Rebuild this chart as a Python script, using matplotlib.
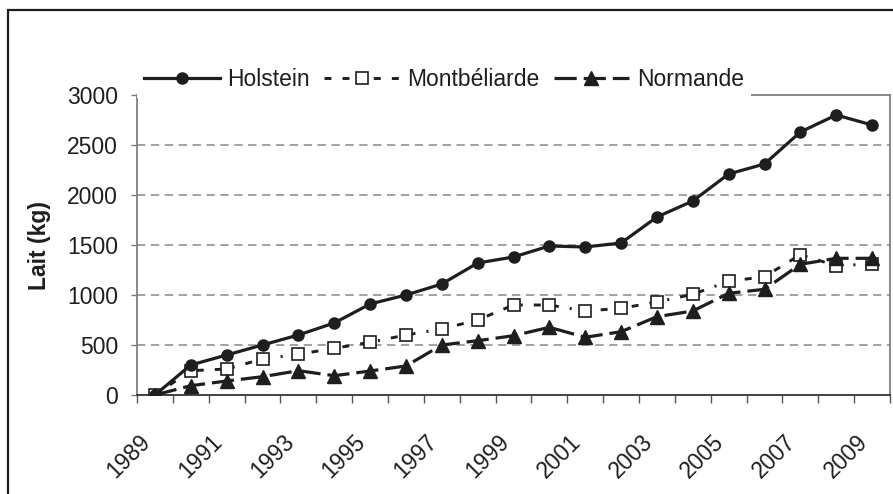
import matplotlib
matplotlib.use("Agg")
import matplotlib.pyplot as plt
import matplotlib.transforms as mtransforms
from matplotlib.patches import Rectangle

plt.rcParams["font.family"] = ["Liberation Sans", "DejaVu Sans"]
plt.rcParams["lines.scale_dashes"] = False

years = list(range(1989, 2010))
holstein = [0, 300, 400, 500, 600, 720, 910, 1000, 1110, 1320, 1380,
            1490, 1480, 1520, 1780, 1940, 2210, 2310, 2630, 2800, 2700]
montbeliarde = [0, 243, 260, 360, 407, 467, 527, 600, 660, 750, 900,
                900, 840, 867, 930, 1007, 1137, 1183, 1403, 1293, 1310]
normande = [0, 93, 140, 183, 243, 193, 240, 290, 500, 543, 593,
            677, 577, 633, 783, 840, 1017, 1057, 1307, 1367, 1367]
yticks = [0, 500, 1000, 1500, 2000, 2500, 3000]

ink = "#1e1e1e"
fs = 16.5

fig = plt.figure(figsize=(8.93, 4.94), dpi=100)
ax = fig.add_axes([137 / 893, 1 - 395 / 494, 753 / 893, 300 / 494])

# outer frame around the whole chart
fig.patches.append(Rectangle((8 / 893, -0.05), 1.2, 1 - 10 / 494 + 0.05,
                             transform=fig.transFigure, fill=False,
                             edgecolor=ink, linewidth=1.6, zorder=0))

x = list(range(len(years)))
ax.plot(x, holstein, color=ink, lw=2.3, marker="o", ms=8,
        label="Holstein", zorder=4)
ax.plot(x, montbeliarde, color=ink, lw=2.1, dashes=(5, 8, 5, 8, 1.5, 8),
        marker="s", ms=8.5, mfc="white", mec=ink, mew=1.2,
        label="Montbéliarde", zorder=3)
ax.plot(x, normande, color=ink, lw=2.3, dashes=(16, 5),
        marker="^", ms=9.5, mfc=ink, mec=ink,
        label="Normande", zorder=3)

ax.set_xlim(-0.5, len(years) - 0.5)
ax.set_ylim(0, 3000)

# y axis
ax.set_yticks(yticks)
ax.set_yticklabels([str(v) for v in yticks])
ax.tick_params(axis="y", length=4.5, width=1, color="#777777", pad=9,
               labelsize=fs, labelcolor=ink)
for v in yticks[1:-1]:
    ax.axhline(v, color="#888888", lw=1.1, dashes=(6, 4), zorder=1)
ax.set_ylabel("Lait (kg)", fontsize=fs, fontweight="bold", color=ink,
              labelpad=12)

# x axis: tick marks on category boundaries, labels every other year
ax.set_xticks([i - 0.5 for i in range(len(years) + 1)], minor=True)
ax.set_xticks(x[::2])
ax.set_xticklabels([str(y) for y in years[::2]])
ax.tick_params(axis="x", which="minor", length=6, width=1, color="#555555")
ax.tick_params(axis="x", which="major", length=0, pad=31,
               labelsize=fs, labelcolor=ink)
shift = mtransforms.ScaledTranslation(-8 / 100, 0, fig.dpi_scale_trans)
for lab in ax.get_xticklabels():
    lab.set_rotation(45)
    lab.set_ha("right")
    lab.set_va("center")
    lab.set_rotation_mode("anchor")
    lab.set_transform(lab.get_transform() + shift)

for side in ("left", "top", "right"):
    ax.spines[side].set_color("#808080")
    ax.spines[side].set_linewidth(1.3)
ax.spines["bottom"].set_color("#333333")
ax.spines["bottom"].set_linewidth(1.3)

leg = ax.legend(loc="lower left", bbox_to_anchor=(0, 0.99), ncol=3,
                frameon=True, fancybox=False, edgecolor="none",
                facecolor="white", framealpha=1, fontsize=fs,
                handlelength=3.3, handletextpad=0.35, columnspacing=0.6,
                borderaxespad=0, borderpad=0.3, labelcolor=ink)
leg.set_zorder(6)

fig.savefig("out.png", dpi=100, facecolor="white")
